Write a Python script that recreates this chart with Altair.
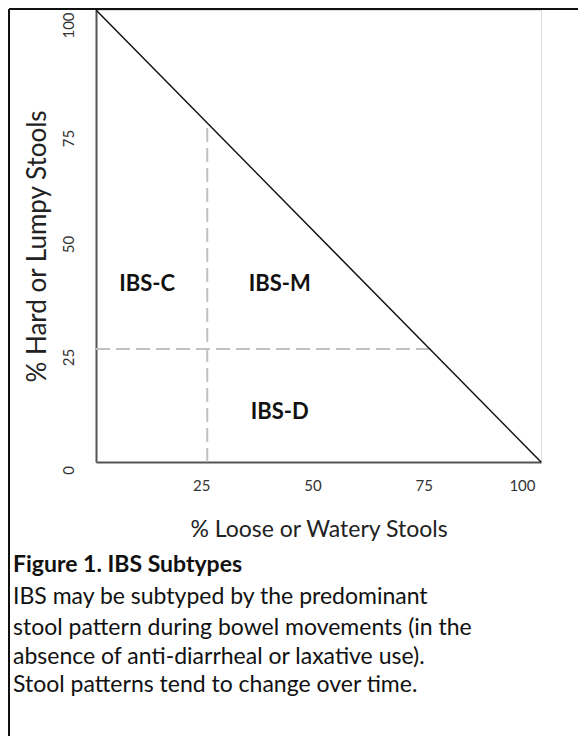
import altair as alt
import pandas as pd

# --- data ---
diag_x = [0, 100]
diag_y = [100, 0]

vline_x = [25]
vline_y0 = [0]
vline_y1 = [75]
hline_y = [25]
hline_x0 = [0]
hline_x1 = [75]

regions = ["IBS-C", "IBS-M", "IBS-D"]
region_x = [11.5, 41.3, 41.3]
region_y = [39.4, 39.4, 11.1]

x_ticks = [25, 50, 75, 100]
y_ticks = [0, 25, 50, 75, 100]

caption_title = "Figure 1. IBS Subtypes"
caption_lines = [
    "IBS may be subtyped by the predominant",
    "stool pattern during bowel movements (in the",
    "absence of anti-diarrheal or laxative use).",
    "Stool patterns tend to change over time.",
]

FONT = "Lato"
W, H = 445, 452

xs = alt.Scale(domain=[0, 100], nice=False, zero=False)
ys = alt.Scale(domain=[0, 100], nice=False, zero=False)

diag_df = pd.DataFrame({"x": diag_x, "y": diag_y})
diag = alt.Chart(diag_df).mark_line(color="#111", strokeWidth=1.5).encode(
    x=alt.X("x:Q", scale=xs,
            axis=alt.Axis(values=x_ticks, title="% Loose or Watery Stools",
                          titleFont=FONT, titleFontSize=23, titleFontWeight="normal",
                          titleColor="#222", titleBaseline="middle", titleY=67,
                          labelFont=FONT, labelFontSize=15, labelColor="#333",
                          labelPadding=16, labelOffset=-6, ticks=False, grid=False,
                          domainColor="#555", domainWidth=2)),
    y=alt.Y("y:Q", scale=ys,
            axis=alt.Axis(values=y_ticks, title="% Hard or Lumpy Stools",
                          titleFont=FONT, titleFontSize=26, titleFontWeight="normal",
                          titleColor="#222", titleBaseline="middle",
                          titleX=-59, titleY=236,
                          labelFont=FONT, labelFontSize=15, labelColor="#333",
                          labelAngle=270, labelAlign="center", labelBaseline="bottom",
                          labelPadding=20,
                          labelOffset={"condition": {"test": "datum.value >= 75", "value": 15},
                                       "value": 8},
                          ticks=False, grid=False,
                          domainColor="#555", domainWidth=2)),
)

vdf = pd.DataFrame({"x": vline_x, "y0": vline_y0, "y1": vline_y1})
vline = alt.Chart(vdf).mark_rule(color="#c0c0c0", strokeWidth=2, strokeDash=[14, 6]).encode(
    x=alt.X("x:Q", scale=xs), y=alt.Y("y0:Q", scale=ys), y2="y1:Q")

hdf = pd.DataFrame({"y": hline_y, "x0": hline_x0, "x1": hline_x1})
hline = alt.Chart(hdf).mark_rule(color="#c0c0c0", strokeWidth=2, strokeDash=[14, 6]).encode(
    y=alt.Y("y:Q", scale=ys), x=alt.X("x0:Q", scale=xs), x2="x1:Q")

rdf = pd.DataFrame({"label": regions, "x": region_x, "y": region_y})
rtext = alt.Chart(rdf).mark_text(font=FONT, fontSize=22, fontWeight="bold", color="#111").encode(
    x=alt.X("x:Q", scale=xs), y=alt.Y("y:Q", scale=ys), text="label:N")

# caption
cap_df = pd.DataFrame({"t": [caption_title]})
cap_title = alt.Chart(cap_df).mark_text(font=FONT, fontSize=23, fontWeight="bold", color="#111",
                                        align="left", baseline="middle").encode(
    x=alt.value(-83), y=alt.value(555), text="t:N")

cap_layers = []
cap_y = [587, 618, 647, 675]
for line, yy in zip(caption_lines, cap_y):
    d = pd.DataFrame({"t": [line]})
    cap_layers.append(
        alt.Chart(d).mark_text(font=FONT, fontSize=23, color="#111", align="left",
                               baseline="middle").encode(
            x=alt.value(-83), y=alt.value(yy), text="t:N"))

# frame
one = pd.DataFrame({"k": [0]})
frame_top = alt.Chart(one).mark_rule(color="#111", strokeWidth=2).encode(
    x=alt.value(-87), x2=alt.value(490), y=alt.value(-1))
frame_left = alt.Chart(one).mark_rule(color="#111", strokeWidth=2).encode(
    x=alt.value(-87), y=alt.value(-1), y2=alt.value(730))

chart = alt.layer(frame_top, frame_left, vline, hline, diag, rtext, cap_title, *cap_layers).properties(
    width=W, height=H,
    autosize=alt.AutoSizeParams(type="none"),
    padding={"left": 88, "top": 2, "right": 37, "bottom": 274},
).configure_view(stroke=None).configure(background="white")

chart.save("out.html", embed_options={"renderer": "svg", "actions": False})
